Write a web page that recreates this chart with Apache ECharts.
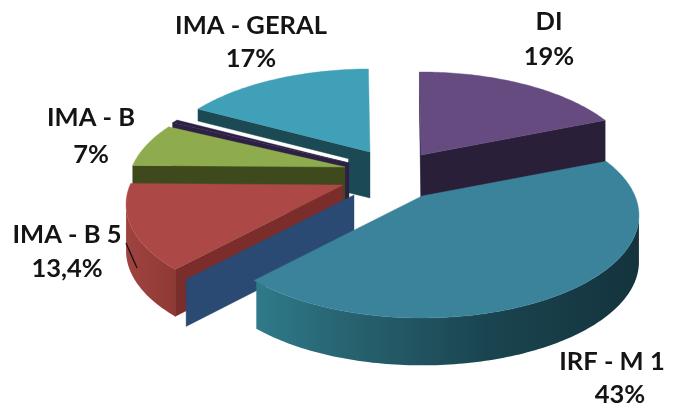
<!DOCTYPE html>
<html><head><meta charset="utf-8">
<style>html,body{margin:0;padding:0;background:#fff}#c{width:675px;height:406px}</style>
<script src="https://cdn.jsdelivr.net/npm/echarts@6/dist/echarts.min.js"></script>
</head><body><div id="c"></div>
<script>
// clockwise from the top; two unlabelled slivers sit in the source chart
const categories = ['DI', 'IRF - M 1', '', 'IMA - B 5', 'IMA - B', '', 'IMA - GERAL'];
const values = [19, 43, 0, 13.4, 7, 0.6, 17];
const valueLabels = ['19%', '43%', '', '13,4%', '7%', '', '17%'];

// styling
const topColors = ['#654b80', '#3a839b', '#2a4a73', '#ac4845', '#8eac4e', '#2c2045', '#40a0b8'];
const wallColors = ['#2a1f38', '#1a4550', '#2a4a73', '#7a2d2a', '#3f4a1c', '#2c2045', '#1b4a54'];
const rimColors = [
  null,
  [[0, '#2f7a8a'], [0.25, '#27626f'], [0.6, '#1a4550'], [1, '#14333d']],
  null,
  [[0, '#a04340'], [1, '#8f3935']],
  [[0, '#4a5621'], [1, '#3f4a1c']],
  null,
  null
];
const explode = [[36, -21], [37, 20], [-31, 19], [-42, 9], [-40, -9], [-36, -13], [-15, -24]];
const drawOrder = [6, 0, 5, 4, 3, 2, 1];
const labelAnchors = [[549, 22, 57], [612, 362, 395], null, [67, 235, 269], [91, 118, 155], null, [251, 26, 59]];
const labelValueX = [549, 620, 0, 67, 91, 0, 251];

const CX = 385, CY = 176, RX = 213, C = 98.8, K = 0.19, DEPTH = 46, START = -0.5;
const total = values.reduce((a, b) => a + b, 0);
const angles = [];
values.reduce((acc, v, i) => { angles[i] = [acc, acc + v / total * 360]; return acc + v / total * 360; }, START);

function rim(i, deg, depth) {
  const t = deg * Math.PI / 180, X = Math.sin(t), Y = -Math.cos(t), s = 1 / (1 - K * Y);
  const e = explode[i];
  return [CX + e[0] + RX * X * s, CY + e[1] + C * Y * s + (depth || 0) * (1 + 0.03 * Y)];
}
function apex(i, depth) {
  return [CX + explode[i][0], CY + explode[i][1] + (depth || 0)];
}
function mix(a, b, t) { return [a[0] + (b[0] - a[0]) * t, a[1] + (b[1] - a[1]) * t]; }

function renderSlice(params, api) {
  const i = api.value(0), a0 = angles[i][0], a1 = angles[i][1];
  const children = [];
  const poly = (points, fill) => children.push({
    type: 'polygon', shape: { points }, style: { fill, stroke: typeof fill === 'string' ? fill : null, lineWidth: 0.4 }
  });

  // outer rim
  const rimTop = [];
  for (let d = a0; d <= a1; d += 1) {
    if (-Math.cos(d * Math.PI / 180) >= K - 0.02) rimTop.push(d);
  }
  if (rimTop.length > 1 && rimColors[i]) {
    const pts = rimTop.map(d => rim(i, d, 0)).concat(rimTop.slice().reverse().map(d => rim(i, d, DEPTH)));
    poly(pts, { type: 'linear', x: 0, y: 0, x2: 1, y2: 0, colorStops: rimColors[i].map(c => ({ offset: c[0], color: c[1] })) });
  }
  // radial walls
  const wall = (deg, trim) => {
    const rt = rim(i, deg, 0), at = apex(i, 0), ab = apex(i, DEPTH);
    if (trim) {
      const m = mix(rt, at, trim.t);
      poly([rt, at, ab, [m[0], m[1] + DEPTH], [m[0], m[1] + trim.d], [rt[0], rt[1] + trim.d]], wallColors[i]);
    } else {
      poly([rt, at, ab, rim(i, deg, DEPTH)], wallColors[i]);
    }
  };
  if (Math.sin(a1 * Math.PI / 180) > 0) wall(a1);
  if (Math.sin(a0 * Math.PI / 180) < 0) wall(a0, i === 6 ? { t: 0.875, d: 12 } : null);

  // top face
  if (a1 - a0 > 0) {
    const pts = [apex(i, 0)];
    for (let d = a0; d < a1; d += 1) pts.push(rim(i, d, 0));
    pts.push(rim(i, a1, 0));
    poly(pts, topColors[i]);
  }
  return { type: 'group', children };
}

function renderLabel(params, api) {
  const i = api.value(0), children = [];
  const la = labelAnchors[i];
  if (la) {
    const txt = (x, y, text) => children.push({
      type: 'text', z2: 50,
      style: { x, y, text, fill: '#141414', font: 'bold 25.5px Lato', textAlign: 'center', textVerticalAlign: 'middle' }
    });
    txt(la[0], la[1], categories[i]);
    txt(labelValueX[i], la[2], valueLabels[i]);
    if (categories[i] === 'IMA - B 5') {
      children.push({ type: 'line', shape: { x1: 126, y1: 243, x2: 137, y2: 268 }, style: { stroke: '#111', lineWidth: 1.3 } });
    }
  }
  return { type: 'group', children };
}

const chart = echarts.init(document.getElementById('c'), null, { renderer: 'canvas' });
chart.setOption({
  animation: false,
  backgroundColor: '#fff',
  series: [
    { type: 'custom', coordinateSystem: 'none', silent: true, renderItem: renderSlice, data: drawOrder.map(i => [i, values[i]]) },
    { type: 'custom', coordinateSystem: 'none', silent: true, renderItem: renderLabel, data: drawOrder.map(i => [i, values[i]]), z: 5 }
  ]
});
</script></body></html>
